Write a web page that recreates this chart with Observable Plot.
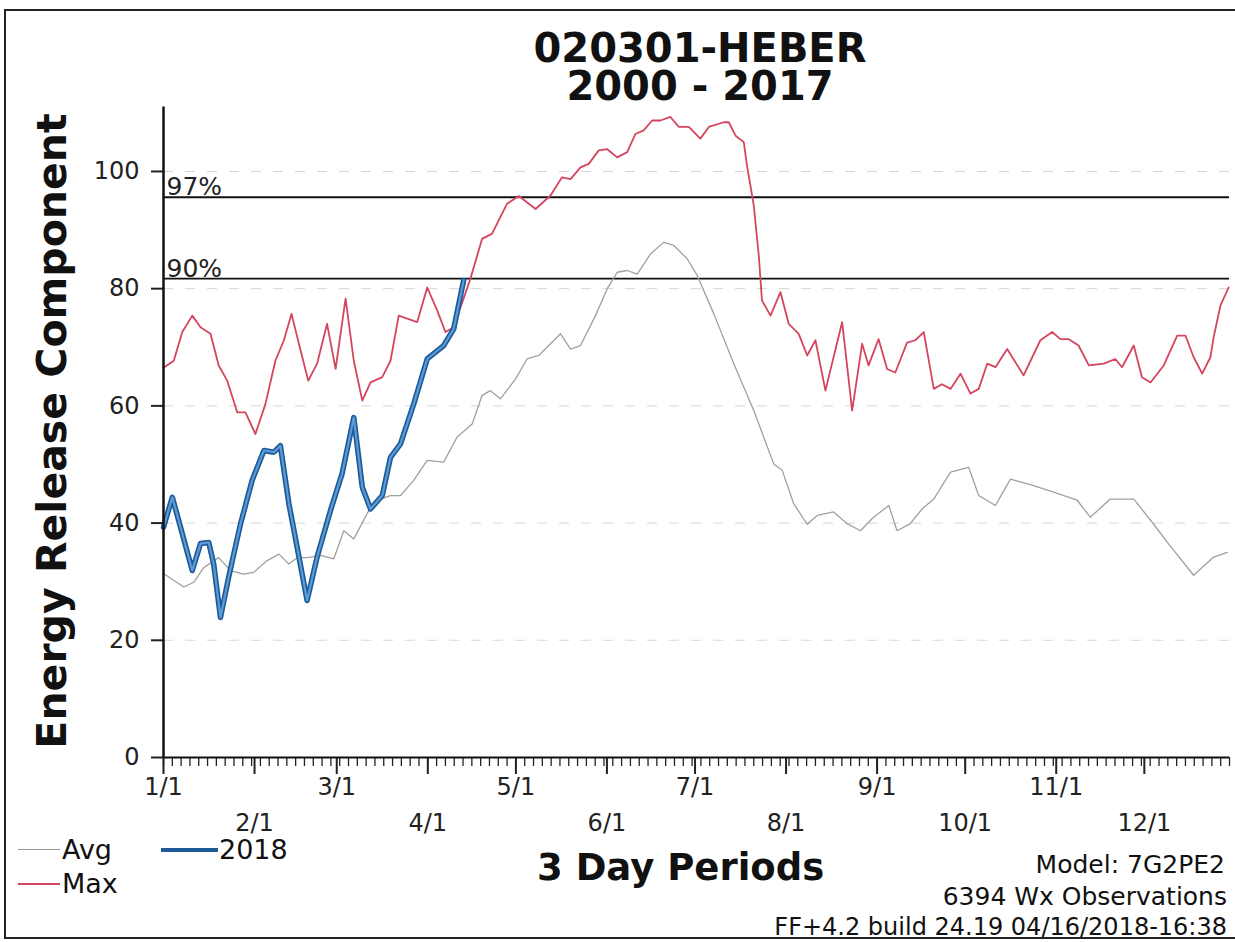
<!DOCTYPE html>
<html>
<head>
<meta charset="utf-8">
<script src="https://cdn.jsdelivr.net/npm/d3@7"></script>
<script src="https://cdn.jsdelivr.net/npm/@observablehq/plot@0.6"></script>
<style>
  html, body { margin: 0; padding: 0; background: #fff; }
  #wrap { position: relative; width: 1235px; height: 942px; overflow: hidden; font-family: "DejaVu Sans", sans-serif; color: #111; }
  #wrap svg { position: absolute; left: 0; top: 0; }
  .t { position: absolute; white-space: nowrap; line-height: 1; }
  .frame { position: absolute; left: 4px; top: 9px; width: 1240px; height: 930px; border: 2px solid #222; border-right: none; box-sizing: border-box; }
  .leg { position: absolute; height: 0; }
</style>
</head>
<body>
<div id="wrap">
  <div class="frame"></div>
</div>
<script>
// ---- data (x = day of year, 3-day periods) ----
const monthDays = [0, 31, 59, 90, 120, 151, 181, 212, 243, 273, 304, 334];
const monthLabels = ["1/1", "2/1", "3/1", "4/1", "5/1", "6/1", "7/1", "8/1", "9/1", "10/1", "11/1", "12/1"];
const yTicks = [0, 20, 40, 60, 80, 100];
const pctValues = [95.6, 81.7];
const pctLabels = ["97%", "90%"];

const maxDays = [0,3.5,6.4,9.8,12.6,16,18.8,21.7,25.1,27.9,31.3,34.7,38.1,41,43.6,46.1,49.3,52.3,55.7,58.6,62,64.8,67.7,70.5,74.5,77.3,80.1,86.4,89.8,93.2,96,98.8,104.5,108.5,111.9,117,121,126.7,131.8,135.7,138.6,142,144.8,148.2,151.1,154.5,157.9,160.7,163.5,166.4,169.2,172.6,175.5,178.9,182.8,185.7,190.8,192.5,194.8,197.6,198.7,201,202.7,203.8,206.7,210.1,212.9,216.3,219.2,222,225.4,231.1,234.5,237.9,240.1,243.5,246.4,249.2,253.2,256,258.9,262.3,265.1,268,271.4,274.8,277.6,280.5,283.3,287.3,292.9,298.6,302.6,305.4,308.2,311.6,315.1,320.2,324.1,326.4,330.4,333.2,336.1,340.6,345.2,348,350.8,353.7,356.5,357.6,359.9,362.7];
const maxValues = [66.5,67.7,72.6,75.4,73.4,72.3,66.9,64.3,58.9,58.9,55.2,60.3,67.7,71.2,75.7,70.6,64.3,67.2,74.0,66.3,78.3,67.7,60.9,64.0,64.9,67.7,75.4,74.3,80.2,76.3,72.6,73.4,81.7,88.5,89.4,94.5,95.8,93.6,95.9,99.0,98.7,100.7,101.3,103.6,103.8,102.4,103.3,106.4,107.0,108.7,108.7,109.3,107.6,107.6,105.6,107.6,108.4,108.4,106.1,105.0,101.0,94.2,85.7,78.0,75.4,79.4,74.0,72.3,68.6,71.2,62.6,74.3,59.2,70.6,66.9,71.4,66.3,65.7,70.8,71.2,72.6,62.9,63.7,62.9,65.5,62.1,62.9,67.2,66.6,69.7,65.2,71.2,72.6,71.4,71.4,70.3,66.9,67.2,68.0,66.6,70.3,64.9,64.0,66.9,72.0,72.0,68.3,65.5,68.3,71.7,77.1,80.2];

const avgDays = [0,6.9,10.3,13.7,18.8,22.8,27.3,30.7,35.3,39.3,42.7,45.5,48.9,53.5,58,61.4,64.8,70.5,73.9,77.3,80.7,85.2,89.8,95.4,100,105.1,108.5,111.3,114.7,119.9,123.8,127.8,131.2,135.2,138.6,142,147.1,151.1,154.5,157.9,161.3,165.8,170.3,173.7,178.3,181.7,187.4,194.2,201,207.8,210.7,214.6,219.2,222.6,228.2,232.8,237.3,241.8,247,249.8,254.3,258.3,262.3,268,274.2,277.6,283.3,288.4,296.3,303.1,311.1,315.6,322.4,330.4,337.2,342.3,350.8,357.6,362.2];
const avgValues = [31.4,29.1,29.9,32.4,34.1,31.9,31.3,31.6,33.6,34.7,33.0,34.1,34.1,34.5,33.9,38.7,37.3,42.7,44.1,44.7,44.7,47.3,50.7,50.4,54.7,56.9,61.8,62.6,61.2,64.6,68.0,68.6,70.3,72.3,69.7,70.3,75.4,80.0,82.8,83.1,82.5,85.9,87.9,87.4,85.1,82.3,75.7,67.2,59.2,50.1,49.0,43.3,39.8,41.3,41.9,39.9,38.7,41.0,43.0,38.7,39.9,42.4,44.1,48.7,49.5,44.7,43.0,47.5,46.4,45.3,43.9,41.0,44.1,44.1,39.8,36.4,31.1,34.2,35.0];

const y2018Days = [0,3,5.8,9.8,12.6,15.4,17.1,19.4,22.2,26.2,30.2,34.2,37.6,39.8,42.7,45.5,48.9,52.3,56.9,60.8,64.8,67.7,70.5,74.5,77.3,80.7,85.2,89.8,95.4,98.8,102.2];
const y2018Values = [39.3,44.4,39.3,31.9,36.5,36.7,33.0,23.9,30.8,39.8,47.3,52.4,52.1,53.2,43.3,35.9,26.8,34.2,42.2,48.4,58.0,46.1,42.4,44.7,51.2,53.5,60.3,68.0,70.3,73.1,81.4];

const titleLines = ["020301-HEBER", "2000 - 2017"];
const yLabel = "Energy Release Component";
const xLabel = "3 Day Periods";
const infoLines = ["Model: 7G2PE2", "6394 Wx Observations", "FF+4.2 build 24.19 04/16/2018-16:38"];

// ---- build tables ----
const maxData = maxDays.map((d, i) => ({day: d, v: maxValues[i]}));
const avgData = avgDays.map((d, i) => ({day: d, v: avgValues[i]}));
const d2018 = y2018Days.map((d, i) => ({day: d, v: y2018Values[i]}));
const periodTicks = d3.range(0, 364, 3);
const oddMonths = monthDays.filter((d, i) => i % 2 === 0);
const evenMonths = monthDays.filter((d, i) => i % 2 === 1);
const fmt = d => monthLabels[monthDays.indexOf(d)];

const chart = Plot.plot({
  width: 1235,
  height: 942,
  marginLeft: 163,
  marginRight: 6,
  marginTop: 106.5,
  marginBottom: 185,
  style: {fontFamily: "DejaVu Sans, sans-serif", fontSize: "24px", color: "#222", background: "transparent"},
  x: {domain: [0, 363]},
  y: {domain: [0, 111]},
  marks: [
    Plot.ruleY(yTicks.filter(d => d > 0), {stroke: "#d6d6d6", strokeWidth: 1, strokeDasharray: "10,12"}),
    Plot.ruleY(pctValues, {stroke: "#111", strokeWidth: 1.8}),
    Plot.text(pctValues, {x: 0, y: d => d, text: (d, i) => pctLabels[i], textAnchor: "start", lineAnchor: "bottom", dx: 3, dy: -2, fontSize: 25, fill: "#222"}),
    Plot.line(avgData, {x: "day", y: "v", stroke: "#a0a0a0", strokeWidth: 1.3}),
    Plot.line(maxData, {x: "day", y: "v", stroke: "#d4455e", strokeWidth: 1.8}),
    Plot.line(d2018, {x: "day", y: "v", stroke: "#1f5a98", strokeWidth: 5.5, strokeLinejoin: "round"}),
    Plot.line(d2018, {x: "day", y: "v", stroke: "#5b9bd6", strokeWidth: 2.2, strokeLinejoin: "round"}),
    Plot.axisY({ticks: yTicks, tickSize: 12, tickPadding: 12, tickFormat: d => String(d), label: null, strokeWidth: 2}),
    Plot.axisX({ticks: periodTicks, tickSize: 9, tickFormat: () => "", label: null, strokeWidth: 1.3}),
    Plot.axisX({ticks: monthDays, tickSize: 17, tickFormat: () => "", label: null, strokeWidth: 2}),
    Plot.axisX({ticks: oddMonths, tickSize: 0, tickPadding: 20, tickFormat: fmt, label: null}),
    Plot.axisX({ticks: evenMonths, tickSize: 0, tickPadding: 56, tickFormat: fmt, label: null}),
    Plot.ruleY([0], {stroke: "#111", strokeWidth: 2}),
    Plot.ruleX([0], {y1: 0, y2: 111, stroke: "#111", strokeWidth: 2.5})
  ]
});
const wrap = document.getElementById("wrap");
wrap.appendChild(chart);

function addText(txt, css) {
  const el = document.createElement("div");
  el.className = "t";
  el.textContent = txt;
  Object.assign(el.style, css);
  wrap.appendChild(el);
  return el;
}
function addLine(x1, x2, y, color, w) {
  const el = document.createElement("div");
  el.className = "leg";
  Object.assign(el.style, {left: x1 + "px", width: (x2 - x1) + "px", top: (y - w / 2) + "px", borderTop: w + "px solid " + color});
  wrap.appendChild(el);
}

// title (one block, two lines)
addText(titleLines.join("\n"), {left: "0px", width: "1400px", textAlign: "center", top: "29px", fontSize: "40px", fontWeight: "bold", whiteSpace: "pre", lineHeight: "38px"});
// y label
addText(yLabel, {left: "52px", top: "431px", fontSize: "41px", fontWeight: "bold", transform: "translate(-50%, -50%) rotate(-90deg)"});
// x label
addText(xLabel, {left: "537px", top: "849px", fontSize: "37px", fontWeight: "bold"});
// info text (right aligned)
addText(infoLines[0], {right: "10px", top: "852px", fontSize: "25px"});
addText(infoLines[1], {right: "8px", top: "884px", fontSize: "25px"});
addText(infoLines[2], {right: "8px", top: "915px", fontSize: "24px"});
// legend
addLine(18, 60, 850, "#9a9a9a", 1.5);
addText("Avg", {left: "62px", top: "836px", fontSize: "27px"});
addLine(18, 60, 884, "#d4455e", 2);
addText("Max", {left: "62px", top: "870px", fontSize: "27px"});
addLine(161, 218, 850, "#1f5a98", 4);
addText("2018", {left: "219px", top: "836px", fontSize: "27px"});
</script>
</body>
</html>
